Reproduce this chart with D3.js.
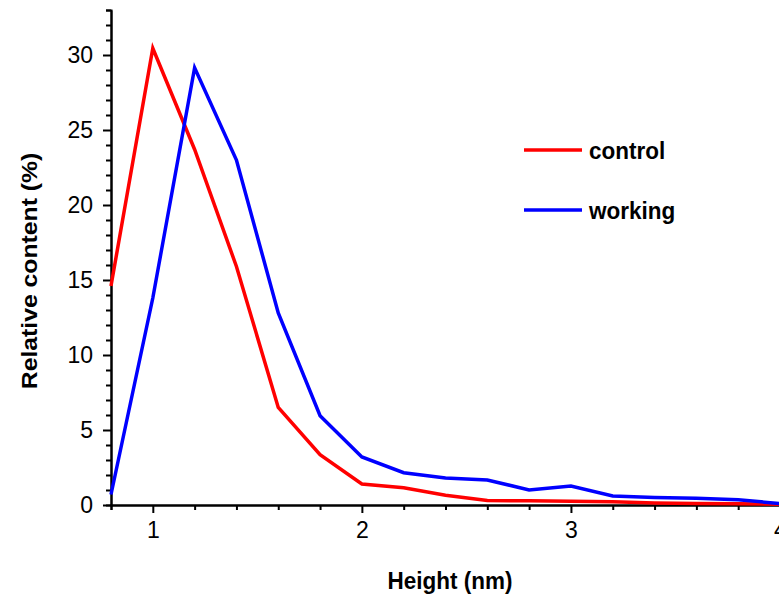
<!DOCTYPE html>
<html>
<head>
<meta charset="utf-8">
<script src="https://cdn.jsdelivr.net/npm/d3@7"></script>
<style>
  body { margin: 0; background: #fff; }
  svg { display: block; font-family: "Liberation Sans", Arial, sans-serif; }
</style>
</head>
<body>
<svg id="chart"></svg>
<script>
// data
const heights = [0.8, 1.0, 1.2, 1.4, 1.6, 1.8, 2.0, 2.2, 2.4, 2.6, 2.8, 3.0, 3.2, 3.4, 3.6, 3.8, 4.0];
const control = [14.6, 30.45, 23.7, 15.9, 6.5, 3.35, 1.4, 1.15, 0.65, 0.3, 0.28, 0.25, 0.22, 0.13, 0.1, 0.08, 0.05];
const working = [0.7, 13.8, 29.15, 23.0, 12.8, 5.95, 3.2, 2.15, 1.8, 1.67, 1.0, 1.27, 0.6, 0.5, 0.45, 0.35, 0.1];
const seriesNames = ['control', 'working'];
const seriesColors = ['#ff0000', '#0000ff'];
const xMajor = [1, 2, 3, 4];
const yMajor = [0, 5, 10, 15, 20, 25, 30];

const width = 779, height = 597;
const margin = { top: 10, right: -1, bottom: 92, left: 111 };

const svg = d3.select('#chart')
    .attr('width', width)
    .attr('height', height);

const x = d3.scaleLinear()
    .domain([0.8, 4.0])
    .range([margin.left, width - margin.right]);

const y = d3.scaleLinear()
    .domain([0, 33])
    .range([height - margin.bottom, margin.top]);

// minor ticks every 0.2 nm and every 1 %
const xMinor = d3.range(0, 17).map(i => +(0.8 + i * 0.2).toFixed(1)).filter(v => !xMajor.includes(v));
const yMinor = d3.range(0, 34).filter(v => !yMajor.includes(v));

const xAxisG = svg.append('g')
    .attr('transform', `translate(0, ${y(0)})`);
xAxisG.append('g')
    .call(d3.axisBottom(x).tickValues(xMinor).tickSize(5).tickFormat(''));
xAxisG.append('g')
    .call(d3.axisBottom(x).tickValues(xMajor).tickSize(8).tickSizeOuter(0).tickPadding(9).tickFormat(d3.format('d')));

const yAxisG = svg.append('g')
    .attr('transform', `translate(${x(0.8)}, 0)`);
yAxisG.append('g')
    .call(d3.axisLeft(y).tickValues(yMinor).tickSize(5).tickFormat(''));
yAxisG.append('g')
    .call(d3.axisLeft(y).tickValues(yMajor).tickSize(8).tickSizeOuter(0).tickPadding(10).tickFormat(d3.format('d')));

svg.selectAll('.domain')
    .attr('stroke', '#000')
    .attr('stroke-width', 2);
svg.selectAll('.tick line')
    .attr('stroke', '#000')
    .attr('stroke-width', 2);
svg.selectAll('.tick text')
    .attr('fill', '#000')
    .style('font-size', '23px');

// lines
const line = d3.line()
    .x((d, i) => x(heights[i]))
    .y(d => y(d));

[control, working].forEach((vals, k) => {
    svg.append('path')
        .datum(vals)
        .attr('fill', 'none')
        .attr('stroke', seriesColors[k])
        .attr('stroke-width', 3.5)
        .attr('d', line);
});

// axis titles (figure text is slightly stretched vertically)
svg.append('text')
    .attr('transform', 'translate(450, 589) scale(1, 1.1)')
    .attr('text-anchor', 'middle')
    .style('font-size', '22.5px')
    .style('font-weight', 'bold')
    .text('Height (nm)');

svg.append('text')
    .attr('transform', 'translate(37, 271) scale(1, 1.1) rotate(-90)')
    .attr('text-anchor', 'middle')
    .style('font-size', '22.5px')
    .style('font-weight', 'bold')
    .text('Relative content (%)');

// legend
const legend = svg.append('g')
    .attr('transform', 'translate(524, 150)');
seriesNames.forEach((name, k) => {
    const row = legend.append('g').attr('transform', `translate(0, ${k * 60})`);
    row.append('line')
        .attr('x1', 0).attr('x2', 58)
        .attr('stroke', seriesColors[k])
        .attr('stroke-width', 3.5);
    row.append('text')
        .attr('transform', 'translate(65, 9) scale(1, 1.1)')
        .style('font-size', '22.5px')
        .style('font-weight', 'bold')
        .text(name);
});
</script>
</body>
</html>
